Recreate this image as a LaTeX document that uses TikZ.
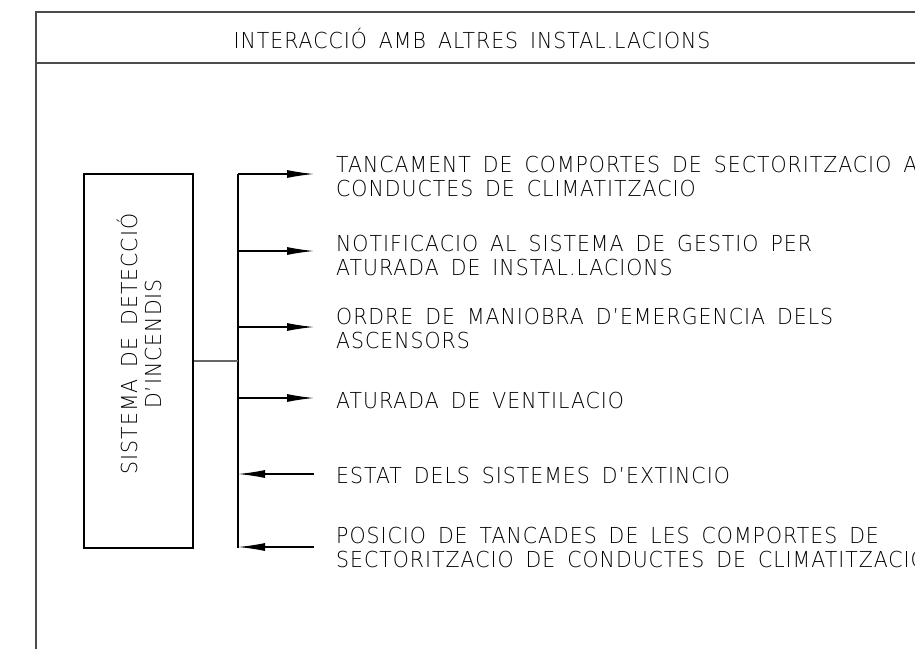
\documentclass[tikz,border=0pt]{standalone}
\usepackage{fontspec}
\newfontfamily\cadfont{DejaVuSans-ExtraLight.ttf}[FakeStretch=0.93,LetterSpace=4.5,WordSpace=1.6]
\usetikzlibrary{arrows.meta,positioning}

\begin{document}
\begin{tikzpicture}[x=1pt,y=-1pt,
    frame/.style={draw=black!70,line width=1.6pt},
    bus/.style={draw=black,line width=1.2pt},
    sigout/.style={bus,-{Latex[length=27pt,width=8pt]}},
    sigin/.style={bus,{Latex[length=27pt,width=8pt]}-},
    label/.style={anchor=west,align=left,inner sep=0pt,
      font=\cadfont\fontsize{22}{24}\selectfont}]
      \useasboundingbox (0,0) rectangle (915,649);
      % title frame
      \coordinate (fb) at (36,649);
      \coordinate (ft) at (915,12);
      \coordinate (hl) at (36,63);
      \coordinate (hr) at (915,63);
      \draw[frame] (fb) |- (ft);
      \draw[frame] (hl) -- (hr);
      \node[label,anchor=center] (title) at (472,38) {INTERACCIÓ AMB ALTRES INSTAL.LACIONS};
      % detection system
      \node[draw,line width=1.8pt,minimum width=109pt,minimum height=374pt] (sdi) at (138.5,361) {};
      \node[label,anchor=center,align=center,rotate=90] (sditext) at (139,344) {SISTEMA DE DETECCIÓ\\D’INCENDIS};
      \begin{scope}
        \coordinate (bt) at (238,174);
        \coordinate (bj) at (238,361);
        \coordinate (bb) at (238,548);
        \draw[bus] (bt) -- (bb);
        \draw[draw=black!60,line width=1.3pt] (sdi.east |- bj) -- (bj);
      \end{scope}
      % signals
      \begin{scope}
        \coordinate (a1) at (238,174); \coordinate (e1) at (314,174);
        \coordinate (a2) at (238,251); \coordinate (e2) at (314,251);
        \coordinate (a3) at (238,327); \coordinate (e3) at (314,327);
        \coordinate (a4) at (238,398); \coordinate (e4) at (314,398);
        \coordinate (a5) at (238,474); \coordinate (e5) at (314,474);
        \coordinate (a6) at (238,547); \coordinate (e6) at (314,547);
        \foreach \i in {1,2,3,4}
          \draw[sigout] (a\i) -- (e\i);
        \foreach \i in {5,6}
          \draw[sigin] (a\i) -- (e\i);
      \end{scope}
      \node[label] (t1) at (336,176) {TANCAMENT DE COMPORTES DE SECTORITZACIO A\\CONDUCTES DE CLIMATITZACIO};
      \node[label] (t2) at (336,255) {NOTIFICACIO AL SISTEMA DE GESTIO PER\\ATURADA DE INSTAL.LACIONS};
      \node[label] (t3) at (336,328) {ORDRE DE MANIOBRA D’EMERGENCIA DELS\\ASCENSORS};
      \node[label] (t4) at (336,400) {ATURADA DE VENTILACIO};
      \node[label] (t5) at (336,475) {ESTAT DELS SISTEMES D’EXTINCIO};
      \node[label] (t6) at (336,547) {POSICIO DE TANCADES DE LES COMPORTES DE\\SECTORITZACIO DE CONDUCTES DE CLIMATITZACIO};
    \end{tikzpicture}
\end{document}
